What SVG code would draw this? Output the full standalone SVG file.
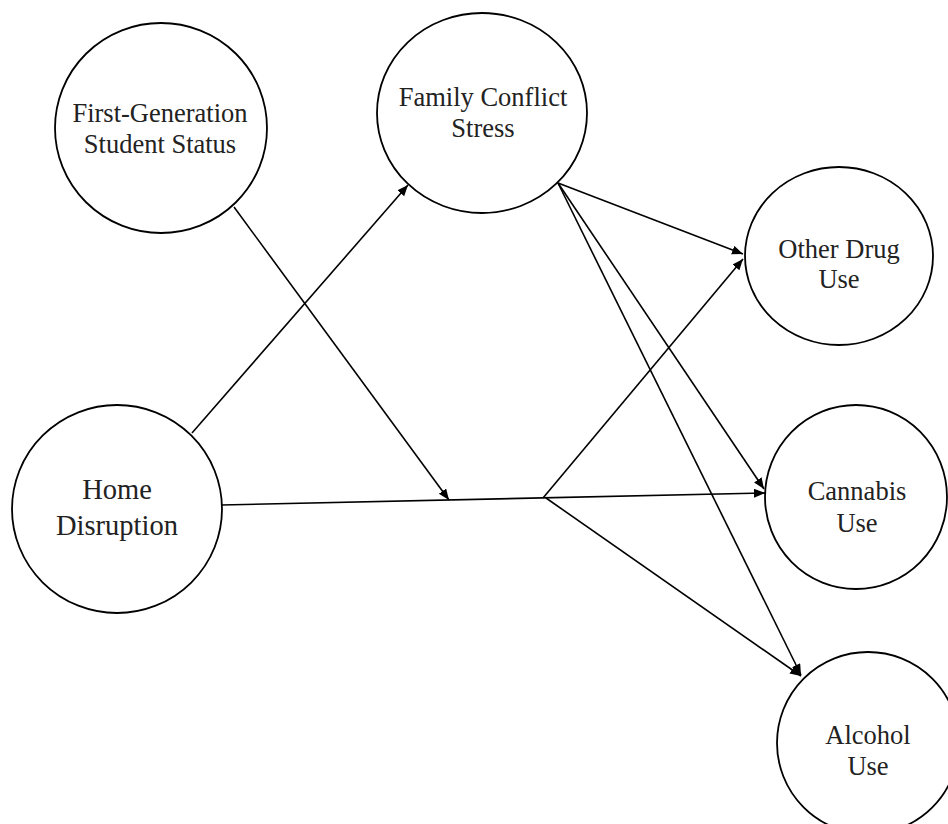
<svg xmlns="http://www.w3.org/2000/svg" width="948" height="824" viewBox="0 0 948 824">
<style>
.node{fill:#fff;stroke:#000;stroke-width:1.8}
.lbl{font-family:"Liberation Serif","Times New Roman",serif;font-size:26.5px;fill:#222;text-anchor:middle}
.big{font-size:28.5px}
.edge{fill:none;stroke:#000;stroke-width:1.6}
</style>
<defs>
<marker id="arr" markerUnits="userSpaceOnUse" markerWidth="13" markerHeight="11" refX="11" refY="4.5" orient="auto">
<path d="M0,0 L11,4.5 L0,9 z" fill="#000"/>
</marker>
</defs>
<rect width="948" height="824" fill="#fff"/>
<g id="n-firstgen">
<ellipse class="node" cx="161" cy="128" rx="106" ry="105"/>
<text class="lbl" x="160" y="122">First-Generation</text>
<text class="lbl" x="160" y="153">Student Status</text>
</g>
<g id="n-family">
<ellipse class="node" cx="482" cy="113" rx="105" ry="100"/>
<text class="lbl" x="483" y="106">Family Conflict</text>
<text class="lbl" x="483" y="137">Stress</text>
</g>
<g id="n-home">
<ellipse class="node" cx="117" cy="509" rx="105" ry="104"/>
<text class="lbl big" x="117" y="499">Home</text>
<text class="lbl big" x="117" y="535">Disruption</text>
</g>
<g id="n-other">
<ellipse class="node" cx="839" cy="256" rx="94" ry="89"/>
<text class="lbl" x="839" y="258">Other Drug</text>
<text class="lbl" x="839" y="288">Use</text>
</g>
<g id="n-cannabis">
<ellipse class="node" cx="856" cy="497" rx="91" ry="92"/>
<text class="lbl" x="857" y="500">Cannabis</text>
<text class="lbl" x="857" y="532">Use</text>
</g>
<g id="n-alcohol">
<ellipse class="node" cx="868" cy="743" rx="91" ry="91"/>
<text class="lbl" x="868" y="744">Alcohol</text>
<text class="lbl" x="868" y="775">Use</text>
</g>
<g id="connectors">
<line class="edge" x1="192" y1="433" x2="408" y2="185" marker-end="url(#arr)"/>
<line class="edge" x1="221" y1="505" x2="765" y2="493" marker-end="url(#arr)"/>
<line class="edge" x1="234" y1="207" x2="449" y2="500" marker-end="url(#arr)"/>
<line class="edge" x1="543" y1="498" x2="743" y2="259" marker-end="url(#arr)"/>
<line class="edge" x1="546" y1="498" x2="801" y2="676" marker-end="url(#arr)"/>
<line class="edge" x1="558" y1="183" x2="743" y2="254" marker-end="url(#arr)"/>
<line class="edge" x1="558" y1="183" x2="764" y2="489" marker-end="url(#arr)"/>
<line class="edge" x1="558" y1="183" x2="801" y2="675" marker-end="url(#arr)"/>
</g>
</svg>
